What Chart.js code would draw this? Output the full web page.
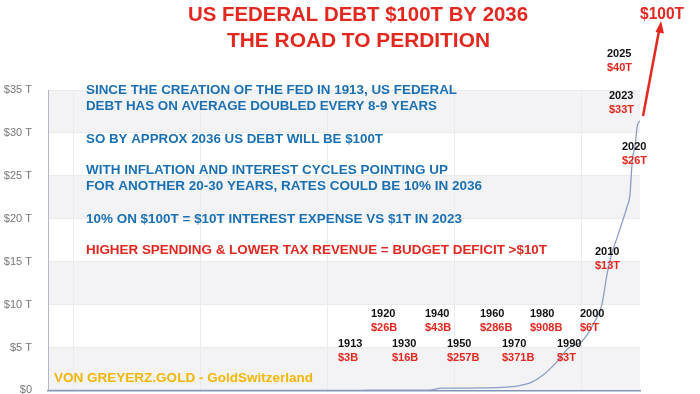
<!DOCTYPE html>
<html>
<head>
<meta charset="utf-8">
<script src="https://cdn.jsdelivr.net/npm/chart.js@4.4.1/dist/chart.umd.min.js"></script>
<style>
  html, body { margin: 0; padding: 0; background: #fff; overflow: hidden; }
  #wrap { width: 700px; height: 394px; position: relative; overflow: hidden; }
</style>
</head>
<body>
<div id="wrap"><canvas id="myChart" width="700" height="413"></canvas></div>
<script>
// US federal debt, trillions of dollars
const years = [1790, 1800, 1815, 1835, 1860, 1866, 1900, 1913, 1919, 1930, 1940, 1945, 1950, 1960, 1970, 1975, 1980, 1985, 1990, 1995, 2000, 2005, 2008, 2010, 2012, 2014, 2016, 2018, 2019, 2020, 2021, 2022, 2023];
const debt = [0.00007, 0.00008, 0.00013, 0.0, 0.00006, 0.0027, 0.0021, 0.0029, 0.027, 0.016, 0.043, 0.26, 0.257, 0.286, 0.371, 0.53, 0.908, 1.82, 3.23, 4.97, 5.67, 7.93, 10.0, 13.5, 16.1, 17.8, 19.6, 21.5, 22.7, 26.9, 28.4, 30.9, 31.4];

const yTicks = [0, 5, 10, 15, 20, 25, 30, 35];
const xGrid = [1800, 1850, 1900, 1950, 2000];

const titleLines = ['US FEDERAL DEBT $100T BY 2036', 'THE ROAD TO PERDITION'];
const noteLines = [
    'SINCE THE CREATION OF THE FED IN 1913, US FEDERAL',
    'DEBT HAS ON AVERAGE DOUBLED EVERY 8-9 YEARS',
    'SO BY APPROX 2036 US DEBT WILL BE $100T',
    'WITH INFLATION AND INTEREST CYCLES POINTING UP',
    'FOR ANOTHER 20-30 YEARS, RATES COULD BE 10% IN 2036',
    '10% ON $100T = $10T INTEREST EXPENSE VS $1T IN 2023',
    'HIGHER SPENDING & LOWER TAX REVENUE = BUDGET DEFICIT >$10T'
];
const labelYears = ['1913', '1920', '1930', '1940', '1950', '1960', '1970', '1980', '1990', '2000', '2010', '2020', '2023', '2025'];
const labelValues = ['$3B', '$26B', '$16B', '$43B', '$257B', '$286B', '$371B', '$908B', '$3T', '$6T', '$13T', '$26T', '$33T', '$40T'];
const target = '$100T';
const credit = 'VON GREYERZ.GOLD - GoldSwitzerland';

// layout (x, baseline of year line)
const labelPos = [[338, 347], [371, 317], [392, 347], [425, 317], [447, 347], [480, 317], [502, 347], [530, 317], [557, 347], [580, 317], [595, 255], [622, 150], [609, 99], [607, 57]];
const noteBase = [94, 110, 143, 174, 190, 223, 254];
const noteWidth = [371, 351, 297, 362, 396, 376, 461];

const RED = '#e2281f';
const BLUE = '#1b70b3';
const FONT = '"Liberation Sans", Arial, sans-serif';

const fitText = (ctx, text, x, y, w, font, color) => {
    ctx.save();
    ctx.font = font;
    ctx.fillStyle = color;
    ctx.textBaseline = 'alphabetic';
    ctx.textAlign = 'left';
    const m = ctx.measureText(text).width;
    ctx.translate(x, y);
    if (w) ctx.scale(w / m, 1);
    ctx.fillText(text, 0, 0);
    ctx.restore();
}

const bands = {
    id: 'bands',
    beforeDraw(chart) {
        const { ctx, chartArea: a, scales: { y } } = chart;
        ctx.save();
        ctx.fillStyle = '#fff';
        ctx.fillRect(0, 0, chart.width, chart.height);
        for (let i = 0; i < yTicks.length - 1; i++) {
            if (i % 2 !== 0) continue;
            const top = y.getPixelForValue(yTicks[i + 1]);
            const bot = y.getPixelForValue(yTicks[i]);
            ctx.fillStyle = '#f3f3f5';
            ctx.fillRect(a.left, top, a.right - a.left, bot - top);
        }
        ctx.restore();
    }
};

const notes = {
    id: 'notes',
    afterDraw(chart) {
        const ctx = chart.ctx;
        fitText(ctx, titleLines[0], 188, 21, 340, `bold 19.5px ${FONT}`, RED);
        fitText(ctx, titleLines[1], 227, 47, 263, `bold 19.5px ${FONT}`, RED);

        noteLines.forEach((t, i) => {
            fitText(ctx, t, 86, noteBase[i], noteWidth[i], `bold 13.5px ${FONT}`, i === 6 ? RED : BLUE);
        });

        fitText(ctx, credit, 54, 382, 259, `bold 13.5px ${FONT}`, '#f2b705');

        labelYears.forEach((t, i) => {
            const [x, y] = labelPos[i];
            fitText(ctx, t, x, y, 0, `bold 11px ${FONT}`, '#111');
            fitText(ctx, labelValues[i], x, y + 14, 0, `bold 11px ${FONT}`, RED);
        });

        // arrow to $100T
        ctx.save();
        ctx.strokeStyle = RED;
        ctx.fillStyle = RED;
        ctx.lineWidth = 2.5;
        ctx.beginPath();
        ctx.moveTo(643, 116);
        ctx.lineTo(659, 31);
        ctx.stroke();
        ctx.beginPath();
        ctx.moveTo(661, 21);
        ctx.lineTo(655.5, 32);
        ctx.lineTo(664, 33.5);
        ctx.closePath();
        ctx.fill();
        ctx.restore();
        fitText(ctx, target, 640, 19, 44, `bold 17px ${FONT}`, RED);
    }
};

const ctx = document.getElementById('myChart').getContext('2d');
const myChart = new Chart(ctx, {
    type: 'line',
    data: {
        datasets: [{
            data: years.map((yr, i) => ({ x: yr, y: debt[i] })),
            borderColor: '#8c9ec6',
            borderWidth: 1.3,
            pointRadius: 0,
            cubicInterpolationMode: 'monotone',
            fill: false
        }]
    },
    options: {
        responsive: false,
        animation: false,
        layout: { padding: { top: 90, right: 60, bottom: 4, left: 0 } },
        plugins: {
            legend: { display: false },
            tooltip: { enabled: false }
        },
        scales: {
            x: {
                type: 'linear',
                min: 1790,
                max: 2023,
                afterBuildTicks: (s) => { s.ticks = xGrid.map(v => ({ value: v })); },
                afterFit: (s) => { s.height = 0; },
                ticks: { display: false },
                grid: { color: '#ebebee', drawTicks: false },
                border: { display: true, color: '#8595b8', width: 1.6 }
            },
            y: {
                min: 0,
                max: 35,
                afterBuildTicks: (s) => { s.ticks = yTicks.map(v => ({ value: v })); },
                afterFit: (s) => { s.width = 48; },
                ticks: {
                    padding: 16,
                    color: '#777',
                    font: { family: FONT, size: 11 },
                    callback: (v) => v === 0 ? '$0' : `$${v} T`
                },
                grid: { color: '#ebebee', drawTicks: false },
                border: { display: true, color: '#b3b7c4', width: 1 }
            }
        }
    },
    plugins: [bands, notes]
});
</script>
</body>
</html>
